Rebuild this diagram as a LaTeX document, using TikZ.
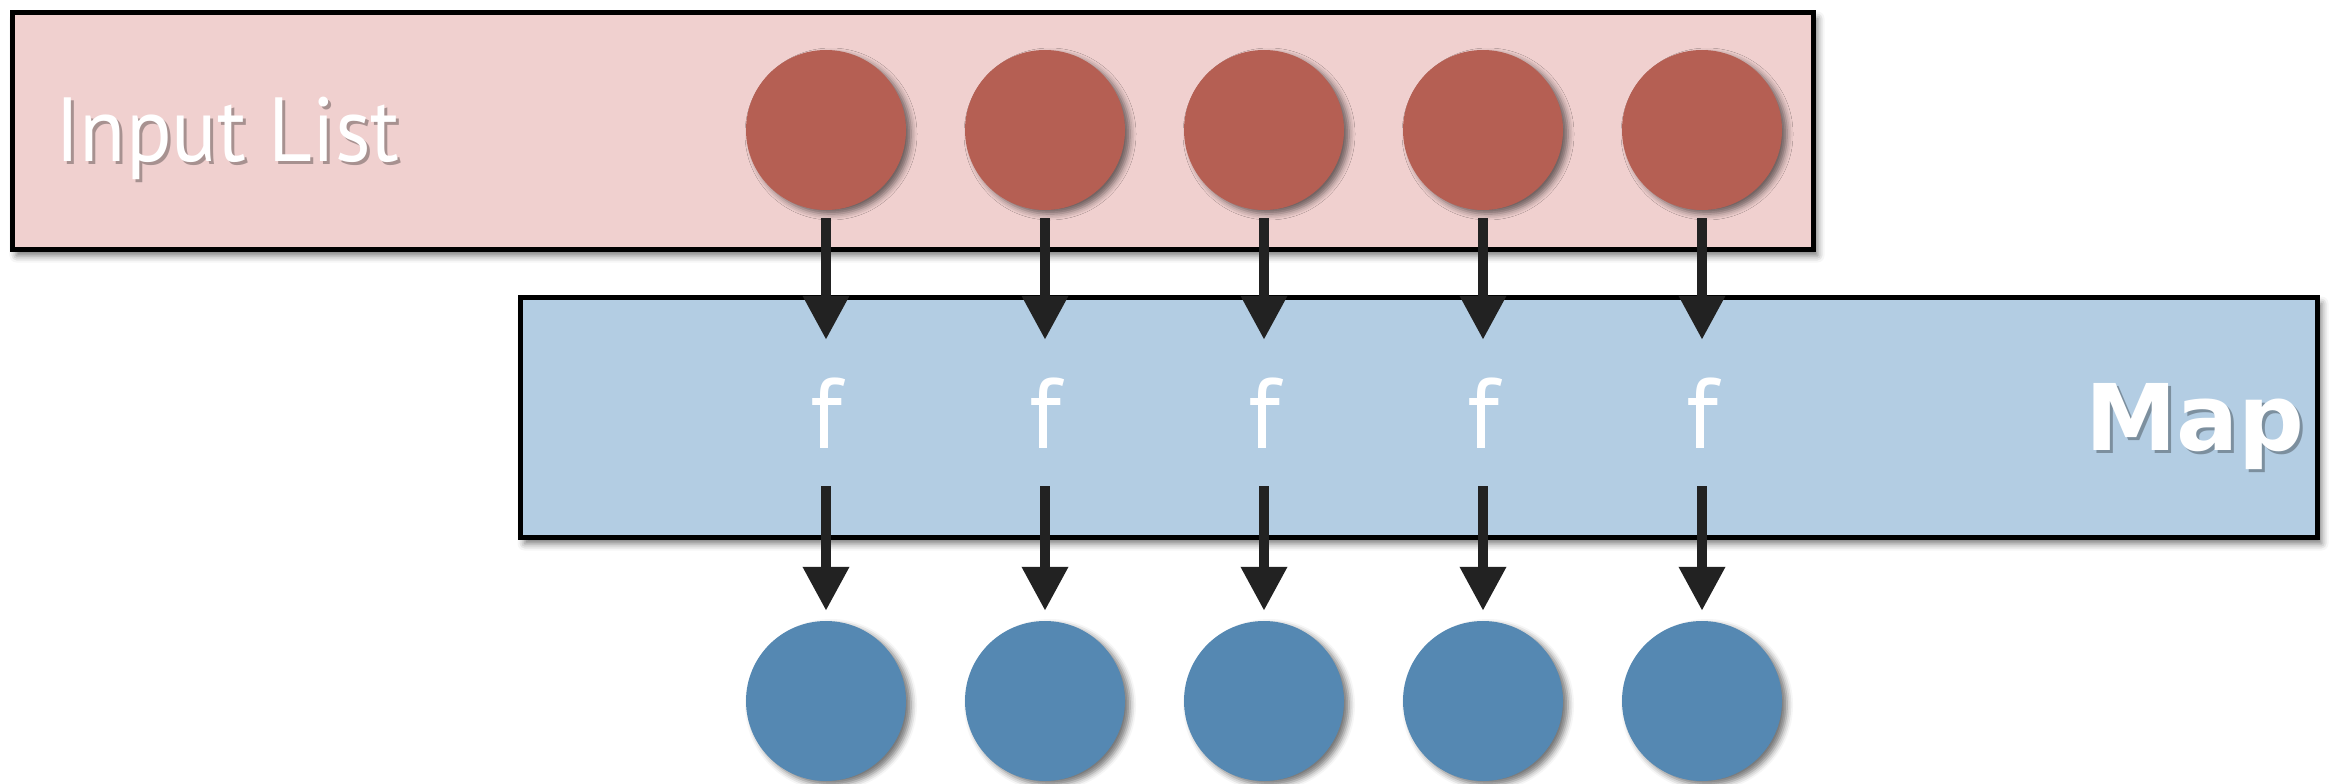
\documentclass[tikz,border=0pt]{standalone}
\usepackage{fontspec}
\setmainfont{PT Sans}
\newfontfamily\mapfont{DejaVu Sans}
\usetikzlibrary{arrows.meta,shadows.blur}
\definecolor{inbg}{HTML}{F0D0CF}
\definecolor{redc}{HTML}{B55F53}
\definecolor{mapbg}{HTML}{B3CDE3}
\definecolor{bluec}{HTML}{5588B2}
\definecolor{arrowc}{HTML}{222222}
\begin{document}
\begin{tikzpicture}[x=1pt,y=-1pt,
  panel/.style={draw=black, line width=5pt, inner sep=0pt, anchor=north west,
    blur shadow={shadow xshift=4pt, shadow yshift=-6pt, shadow blur radius=7pt, shadow opacity=55}},
  ball/.style={circle, minimum size=160pt, inner sep=0pt,
    blur shadow={shadow xshift=5pt, shadow yshift=-4pt, shadow blur radius=6pt, shadow opacity=55}},
  fun/.style={inner sep=0pt, minimum height=146pt, minimum width=60pt, text=white,
    font=\fontsize{100}{110}\selectfont},
  tshadow/.style={text=black, opacity=0.3},
  arr/.style={draw=arrowc, line width=10pt, -{Triangle[length=44pt,width=44pt]}},
]
\useasboundingbox (0,0) rectangle (2334,784);
% panels
\node[panel, fill=inbg, minimum width=1801pt, minimum height=237pt] (inlist) at (10,10) {};
\node[panel, fill=mapbg, minimum width=1797pt, minimum height=240pt] (map) at (518,295) {};
% labels with text shadow
\node[tshadow, anchor=base west, inner sep=0pt, font=\fontsize{91}{100}\selectfont] (inlabelsh) at (58,164) {\scalebox{0.93}[1]{Input List}};
\node[text=white, anchor=base west, inner sep=0pt, font=\fontsize{91}{100}\selectfont] (inlabel) at (55,161) {\scalebox{0.93}[1]{Input List}};
\node[tshadow, anchor=base east, inner sep=0pt, font=\mapfont\bfseries\fontsize{92}{100}\selectfont] (maplabelsh) at (2308,453) {Map};
\node[text=white, anchor=base east, inner sep=0pt, font=\mapfont\bfseries\fontsize{92}{100}\selectfont] (maplabel) at (2305,450) {Map};
% items
\foreach \i/\x in {1/826,2/1045,3/1264,4/1483,5/1702}{
  \node[ball, fill=redc] (r\i) at (\x,130) {};
  \node[fun] (f\i) at (\x,413) {f};
  \node[ball, fill=bluec] (b\i) at (\x,701) {};
  \draw[arr, shorten <=8pt] (r\i.south) -- (f\i.north);
  \draw[arr, shorten >=10pt] (f\i.south) -- (b\i.north);
}
\end{tikzpicture}
\end{document}
